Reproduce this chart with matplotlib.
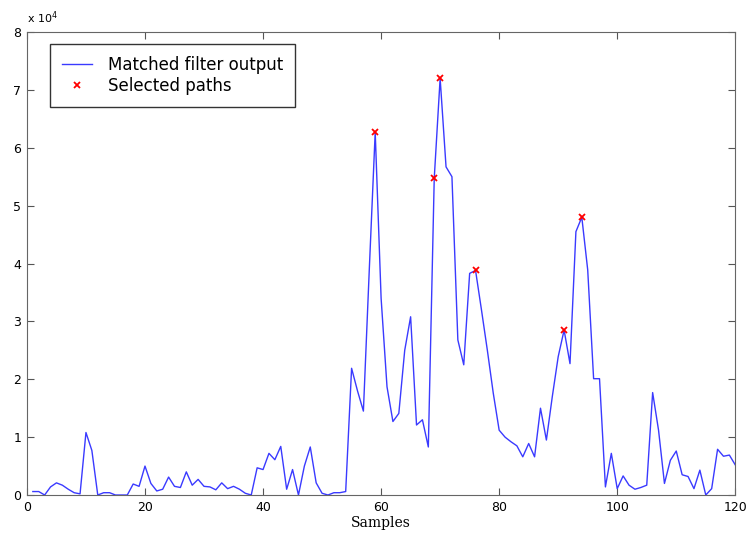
import numpy as np
import matplotlib
matplotlib.use("Agg")
import matplotlib.pyplot as plt
from matplotlib.ticker import FuncFormatter

# matched filter output, in units of 1e4, samples 1..120
output_e4 = [
    0.06, 0.06, 0.00, 0.14, 0.21, 0.17, 0.10, 0.04, 0.02, 1.08,
    0.77, 0.00, 0.04, 0.04, 0.00, 0.00, 0.00, 0.19, 0.15, 0.50,
    0.20, 0.07, 0.10, 0.31, 0.15, 0.13, 0.40, 0.17, 0.27, 0.15,
    0.14, 0.09, 0.21, 0.11, 0.15, 0.10, 0.03, 0.00, 0.47, 0.44,
    0.72, 0.61, 0.84, 0.10, 0.44, 0.00, 0.50, 0.83, 0.21, 0.03,
    0.00, 0.04, 0.04, 0.06, 2.19, 1.80, 1.45, 3.90, 6.27, 3.40,
    1.87, 1.27, 1.41, 2.50, 3.08, 1.21, 1.30, 0.83, 5.47, 7.20,
    5.67, 5.50, 2.68, 2.25, 3.83, 3.88, 3.20, 2.50, 1.76, 1.12,
    1.00, 0.92, 0.85, 0.66, 0.89, 0.66, 1.50, 0.95, 1.70, 2.39,
    2.85, 2.27, 4.55, 4.80, 3.89, 2.01, 2.01, 0.14, 0.72, 0.11,
    0.33, 0.17, 0.10, 0.13, 0.17, 1.77, 1.12, 0.20, 0.60, 0.76,
    0.35, 0.32, 0.11, 0.43, 0.00, 0.11, 0.79, 0.67, 0.69, 0.52,
]
samples = np.arange(1, len(output_e4) + 1)
output = np.array(output_e4) * 1e4

# sample numbers picked as paths
selected = [59, 69, 70, 76, 91, 94]

fig = plt.figure(figsize=(7.48, 5.39), dpi=100)
ax = fig.add_axes([0.036, 0.0816, 0.947, 0.859])

ax.plot(samples, output, color='#3a3aff', lw=1.0, label='Matched filter output')
sel = np.array(selected)
ax.plot(sel, output[sel - 1], 'x', color='red', ms=5, mew=1.3,
        ls='none', label='Selected paths')

ax.set_xlim(0, 120)
ax.set_ylim(0, 8e4)
ax.set_xticks(np.arange(0, 121, 20))
ax.set_yticks(np.arange(0, 8.1e4, 1e4))
ax.yaxis.set_major_formatter(FuncFormatter(lambda v, p: f"{v / 1e4:.0f}"))
ax.tick_params(direction='in', top=True, right=True, length=5,
               labelsize=9, color='#555555', pad=4)
for s in ax.spines.values():
    s.set_color('#666666')

ax.text(0.0, 1.012, r'x 10$^4$', transform=ax.transAxes, fontsize=8,
        ha='left', va='bottom')
ax.set_xlabel('Samples', family='DejaVu Serif', fontsize=10, labelpad=2)

leg = ax.legend(loc='upper left', bbox_to_anchor=(0.0325, 0.974),
                fancybox=False, edgecolor='black', fontsize=12,
                borderpad=0.7, handlelength=1.8, handletextpad=1.0,
                labelspacing=0.2, borderaxespad=0)
leg.get_frame().set_linewidth(1.0)

fig.savefig('out.png', dpi=100)
